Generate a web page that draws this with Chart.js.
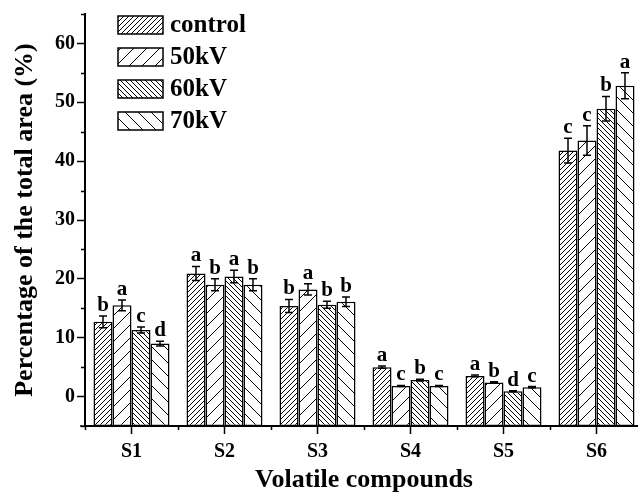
<!DOCTYPE html>
<html>
<head>
<meta charset="utf-8">
<script src="https://cdn.jsdelivr.net/npm/chart.js@4/dist/chart.umd.min.js"></script>
<style>
  html, body { margin: 0; padding: 0; background: #fff; overflow: hidden; }
  canvas { display: block; }
</style>
</head>
<body>
<canvas id="volatileChart" width="645" height="496"></canvas>
<script>
// data
const categories = ['S1', 'S2', 'S3', 'S4', 'S5', 'S6'];
const seriesNames = ['control', '50kV', '60kV', '70kV'];

const controlVals = [12.7, 20.9, 15.4, 5.0, 3.5, 41.8];
const kv50Vals = [15.5, 19.0, 18.2, 1.8, 2.4, 43.5];
const kv60Vals = [11.3, 20.4, 15.6, 2.8, 0.9, 48.9];
const kv70Vals = [9.0, 19.0, 16.1, 1.8, 1.6, 52.8];

const controlErr = [1.0, 1.2, 1.1, 0.2, 0.15, 2.1];
const kv50Err = [0.9, 1.0, 0.95, 0.1, 0.1, 2.5];
const kv60Err = [0.5, 1.05, 0.6, 0.15, 0.1, 2.1];
const kv70Err = [0.4, 1.0, 0.8, 0.1, 0.1, 2.2];

const controlSig = ['b', 'a', 'b', 'a', 'a', 'c'];
const kv50Sig = ['a', 'b', 'a', 'c', 'b', 'c'];
const kv60Sig = ['c', 'a', 'b', 'b', 'd', 'b'];
const kv70Sig = ['d', 'b', 'b', 'c', 'c', 'a'];

const yTickLabels = [0, 10, 20, 30, 40, 50, 60];

const SERIF = "'Liberation Serif', 'Times New Roman', serif";

// hatch fills
function hatch(size, dir) {
    const c = document.createElement('canvas');
    c.width = size;
    c.height = size;
    const g = c.getContext('2d');
    g.fillStyle = '#fff';
    g.fillRect(0, 0, size, size);
    g.strokeStyle = '#000';
    g.lineWidth = 1;
    g.beginPath();
    if (dir === '/') {
        g.moveTo(-1, size + 1); g.lineTo(size + 1, -1);
        g.moveTo(-1, 1); g.lineTo(1, -1);
        g.moveTo(size - 1, size + 1); g.lineTo(size + 1, size - 1);
    } else {
        g.moveTo(-1, -1); g.lineTo(size + 1, size + 1);
        g.moveTo(size - 1, -1); g.lineTo(size + 1, 1);
        g.moveTo(-1, size - 1); g.lineTo(1, size + 1);
    }
    g.stroke();
    return g.createPattern(c, 'repeat');
}

const fills = [hatch(5, '/'), hatch(13, '/'), hatch(5, '\\'), hatch(13, '\\')];
const values = [controlVals, kv50Vals, kv60Vals, kv70Vals];
const errors = [controlErr, kv50Err, kv60Err, kv70Err];
const letters = [controlSig, kv50Sig, kv60Sig, kv70Sig];

// minor ticks, error bars, letters, legend
const extras = {
    id: 'extras',
    afterDatasetsDraw(chart) {
        const ctx = chart.ctx;
        const x = chart.scales.x;
        const y = chart.scales.y;
        const area = chart.chartArea;
        ctx.save();
        ctx.strokeStyle = '#000';

        // minor ticks
        ctx.lineWidth = 1.5;
        ctx.beginPath();
        for (let v = -5; v <= 65; v += 10) {
            const py = Math.round(y.getPixelForValue(v)) + 0.5;
            ctx.moveTo(area.left - 4, py);
            ctx.lineTo(area.left, py);
        }
        for (let i = 0; i <= categories.length; i++) {
            const px = Math.round(x.getPixelForValue(i - 0.5)) + 0.5;
            ctx.moveTo(px, area.bottom);
            ctx.lineTo(px, area.bottom + 4);
        }
        ctx.moveTo(area.left - 5, area.bottom);
        ctx.lineTo(area.left, area.bottom);
        ctx.stroke();

        // error bars + letters
        ctx.font = 'bold 21px ' + SERIF;
        ctx.fillStyle = '#000';
        ctx.textAlign = 'center';
        ctx.textBaseline = 'alphabetic';
        values.forEach((vals, d) => {
            const meta = chart.getDatasetMeta(d);
            meta.data.forEach((bar, i) => {
                const bx = bar.x;
                const top = y.getPixelForValue(vals[i] + errors[d][i]);
                const bot = y.getPixelForValue(vals[i] - errors[d][i]);
                ctx.lineWidth = 1.5;
                ctx.beginPath();
                ctx.moveTo(bx, top); ctx.lineTo(bx, bot);
                ctx.moveTo(bx - 4, top); ctx.lineTo(bx + 4, top);
                ctx.moveTo(bx - 4, bot); ctx.lineTo(bx + 4, bot);
                ctx.stroke();
                ctx.fillText(letters[d][i], bx, top - 5);
            });
        });

        // legend
        ctx.textAlign = 'left';
        ctx.textBaseline = 'middle';
        ctx.font = 'bold 25px ' + SERIF;
        seriesNames.forEach((name, d) => {
            const ly = 16 + d * 32;
            ctx.fillStyle = fills[d];
            ctx.fillRect(118, ly, 45, 18);
            ctx.lineWidth = 1.5;
            ctx.strokeRect(118, ly, 45, 18);
            ctx.fillStyle = '#000';
            ctx.fillText(name, 170, ly + 10);
        });
        ctx.restore();
    }
};

const datasets = seriesNames.map((name, d) => ({
    label: name,
    data: values[d],
    base: -5,
    backgroundColor: fills[d],
    borderColor: '#000',
    borderWidth: 1.5,
    borderSkipped: false,
    barPercentage: 1,
    categoryPercentage: 0.817
}));

const config = {
    type: 'bar',
    data: { labels: categories, datasets: datasets },
    options: {
        responsive: false,
        animation: false,
        layout: { padding: { top: 12, right: 2, left: 0, bottom: 0 } },
        plugins: {
            legend: { display: false },
            tooltip: { enabled: false }
        },
        scales: {
            x: {
                afterFit(scale) { scale.height = 70; },
                grid: {
                    display: true,
                    drawOnChartArea: false,
                    offset: false,
                    tickLength: 8,
                    tickWidth: 1.5,
                    tickColor: '#000'
                },
                border: { display: true, color: '#000', width: 2 },
                ticks: {
                    color: '#000',
                    padding: 6,
                    font: { family: SERIF, size: 20, weight: 'bold' }
                },
                title: {
                    display: true,
                    text: 'Volatile compounds',
                    color: '#000',
                    font: { family: SERIF, size: 26, weight: 'bold' },
                    padding: { top: 0, bottom: 0 }
                }
            },
            y: {
                min: -5,
                max: 65,
                afterFit(scale) { scale.width = 85; },
                afterBuildTicks(scale) {
                    scale.ticks = yTickLabels.map(v => ({ value: v }));
                },
                grid: {
                    display: true,
                    drawOnChartArea: false,
                    tickLength: 8,
                    tickWidth: 1.5,
                    tickColor: '#000'
                },
                border: { display: true, color: '#000', width: 2 },
                ticks: {
                    color: '#000',
                    padding: 2,
                    font: { family: SERIF, size: 20, weight: 'bold' }
                },
                title: {
                    display: true,
                    text: 'Percentage of the total area (%)',
                    color: '#000',
                    font: { family: SERIF, size: 26, weight: 'bold' },
                    padding: { top: 10, bottom: 0 }
                }
            }
        }
    },
    plugins: [extras]
};

new Chart(document.getElementById('volatileChart').getContext('2d'), config);
</script>
</body>
</html>
